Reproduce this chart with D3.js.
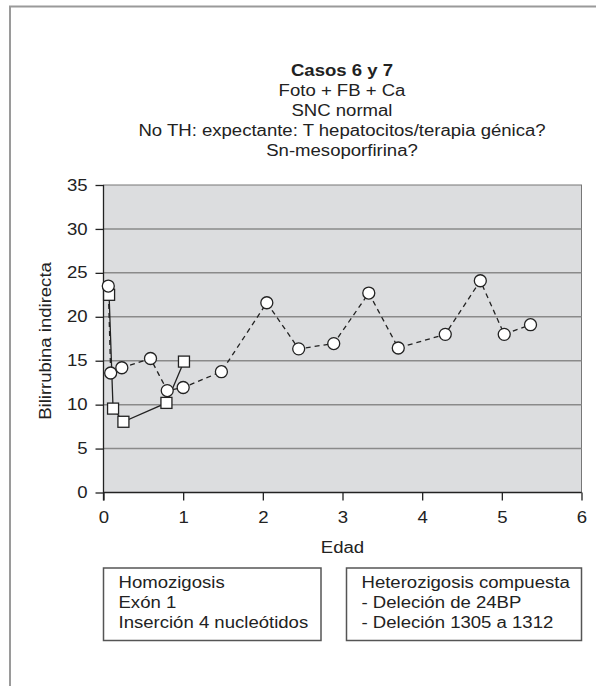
<!DOCTYPE html>
<html>
<head>
<meta charset="utf-8">
<script src="https://cdn.jsdelivr.net/npm/d3@7"></script>
<style>
  html, body { margin: 0; padding: 0; background: #fff; }
  svg { display: block; font-family: "Liberation Sans", Arial, Helvetica, sans-serif; }
</style>
</head>
<body>
<svg id="chart" width="596" height="686"></svg>
<script>
// ---- Data ----
const titleLines = ["Casos 6 y 7", "Foto + FB + Ca", "SNC normal",
  "No TH: expectante: T hepatocitos/terapia génica?", "Sn-mesoporfirina?"];
const xTicks = [0, 1, 2, 3, 4, 5, 6];
const yTicks = [0, 5, 10, 15, 20, 25, 30, 35];
// Circles (dashed line)
const edadCirc = [0.06, 0.09, 0.23, 0.59, 0.80, 1.00, 1.48, 2.05, 2.45, 2.89, 3.33, 3.70, 4.29, 4.73, 5.03, 5.36];
const biliCirc = [23.5, 13.6, 14.2, 15.25, 11.6, 11.95, 13.75, 21.6, 16.35, 16.95, 22.7, 16.45, 18.0, 24.1, 18.0, 19.1];
// Squares (solid line)
const edadSq = [0.07, 0.12, 0.25, 0.79, 1.01];
const biliSq = [22.5, 9.55, 8.05, 10.2, 14.9];
const legend1 = ["Homozigosis", "Exón 1", "Inserción 4 nucleótidos"];
const legend2 = ["Heterozigosis compuesta", "- Deleción de 24BP", "- Deleción 1305 a 1312"];

// ---- Layout ----
const FS = 16;      // font size
const SX = 1.16;    // horizontal stretch of the lettering
const INK = "#222";
const svg = d3.select("#chart");
const plot = { left: 103.5, right: 581.5, top: 185, bottom: 492.5 };
const x = d3.scaleLinear().domain([0, 6]).range([plot.left, plot.right]);
const y = d3.scaleLinear().domain([0, 35]).range([plot.bottom, plot.top]);

function label(parent, tx, ty, str, anchor, bold, rot) {
  return parent.append("text")
    .attr("transform", `translate(${tx},${ty})${rot ? " rotate(" + rot + ")" : ""} scale(${SX},1)`)
    .attr("text-anchor", anchor).attr("font-size", FS)
    .attr("font-weight", bold ? "bold" : "normal").attr("fill", INK).text(str);
}

// outer frame (top and left edges visible)
svg.append("path").attr("d", "M10,686 V6.5 H596")
  .attr("fill", "none").attr("stroke", "#9a9a9a").attr("stroke-width", 2);

// title
titleLines.forEach((t, i) => label(svg, 342, 76 + i * 20, t, "middle", i === 0));

// plot background
svg.append("rect").attr("x", plot.left).attr("y", plot.top)
  .attr("width", plot.right - plot.left).attr("height", plot.bottom - plot.top)
  .attr("fill", "#dcdddf").attr("stroke", "#777").attr("stroke-width", 1);

// grid lines
svg.append("g").selectAll("line").data(yTicks.filter(d => d > 0 && d < 35)).join("line")
  .attr("x1", plot.left).attr("x2", plot.right)
  .attr("y1", d => y(d)).attr("y2", d => y(d))
  .attr("stroke", "#8a8a8a").attr("stroke-width", 1.5);

// axes
const yAxis = svg.append("g").attr("transform", `translate(${plot.left},0)`)
  .call(d3.axisLeft(y).tickValues(yTicks).tickFormat(d3.format("d")).tickSize(8).tickPadding(8));
const xAxis = svg.append("g").attr("transform", `translate(0,${plot.bottom})`)
  .call(d3.axisBottom(x).tickValues(xTicks).tickFormat(d3.format("d")).tickSize(8).tickPadding(11));
[yAxis, xAxis].forEach(a => {
  a.select(".domain").attr("stroke", INK).attr("stroke-width", 1.3);
  a.selectAll(".tick line").attr("stroke", INK).attr("stroke-width", 1.3);
  a.selectAll(".tick text").attr("font-size", FS).attr("fill", INK)
    .attr("font-family", "Liberation Sans, Arial, sans-serif");
});
yAxis.selectAll(".tick text").attr("x", -16 / SX).attr("transform", `scale(${SX},1)`);
xAxis.selectAll(".tick text").attr("transform", `scale(${SX},1)`);
yAxis.select(".domain").attr("d", `M0,${plot.top}V${plot.bottom + 8}`);
xAxis.select(".domain").attr("d", `M${plot.left},0H${plot.right}`);

// axis titles
label(svg, 51, 341, "Bilirrubina indirecta", "middle", false, -90);
label(svg, (plot.left + plot.right) / 2, 553, "Edad", "middle", false);

// series
const sq = edadSq.map((e, i) => [e, biliSq[i]]);
const ci = edadCirc.map((e, i) => [e, biliCirc[i]]);
const line = d3.line().x(d => x(d[0])).y(d => y(d[1]));

svg.append("path").datum(sq).attr("d", line).attr("fill", "none")
  .attr("stroke", INK).attr("stroke-width", 1.3);
svg.append("path").datum(ci).attr("d", line).attr("fill", "none")
  .attr("stroke", INK).attr("stroke-width", 1.3).attr("stroke-dasharray", "5,4");

svg.append("g").selectAll("rect").data(sq).join("rect")
  .attr("x", d => x(d[0]) - 5.5).attr("y", d => y(d[1]) - 5.5)
  .attr("width", 11).attr("height", 11)
  .attr("fill", "#fff").attr("stroke", INK).attr("stroke-width", 1.3);
svg.append("g").selectAll("circle").data(ci).join("circle")
  .attr("cx", d => x(d[0])).attr("cy", d => y(d[1])).attr("r", 6)
  .attr("fill", "#fff").attr("stroke", INK).attr("stroke-width", 1.3);

// legend boxes
function box(x0, x1, lines) {
  svg.append("rect").attr("x", x0).attr("y", 568).attr("width", x1 - x0).attr("height", 72.5)
    .attr("fill", "#fff").attr("stroke", "#555").attr("stroke-width", 1.5);
  lines.forEach((t, i) => label(svg, x0 + 15, 588 + i * 20, t, "start", false));
}
box(103.5, 321, legend1);
box(346.5, 581.5, legend2);
</script>
</body>
</html>
